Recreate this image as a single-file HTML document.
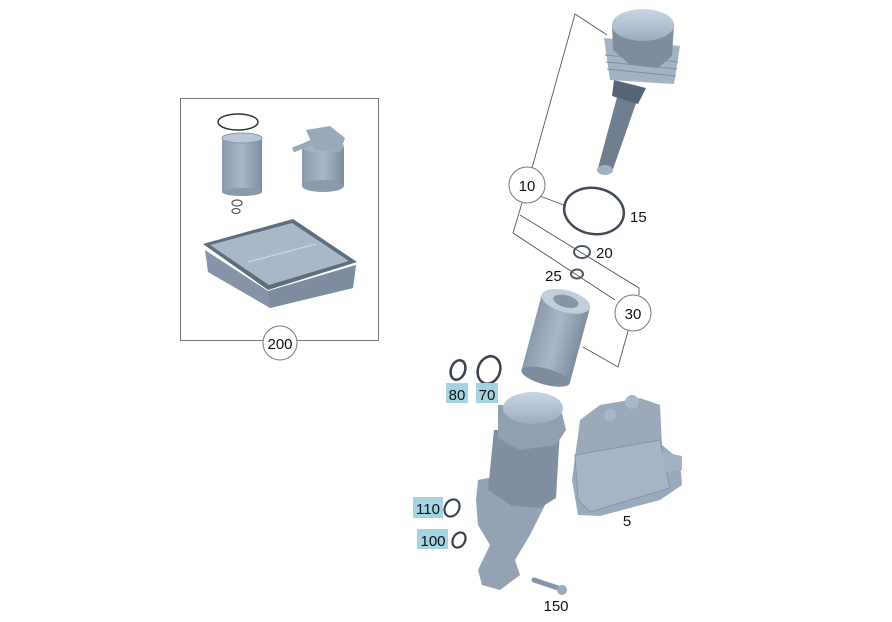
<!DOCTYPE html>
<html><head><meta charset="utf-8"><style>
html,body{margin:0;padding:0;background:#fff;}
svg{display:block;}
text{font-family:"Liberation Sans",sans-serif;font-size:15px;fill:#111;}
</style></head><body>
<svg width="892" height="622" viewBox="0 0 892 622" xmlns="http://www.w3.org/2000/svg">
<defs>
<linearGradient id="g1" x1="0" x2="1" y1="0" y2="0"><stop offset="0" stop-color="#8a9aab"/><stop offset="0.5" stop-color="#a9b8c8"/><stop offset="1" stop-color="#7d8d9e"/></linearGradient>
<linearGradient id="g2" x1="0" x2="0" y1="0" y2="1"><stop offset="0" stop-color="#c8d6e4"/><stop offset="1" stop-color="#9badbf"/></linearGradient>
</defs>
<rect x="180.5" y="98.5" width="198" height="242" fill="none" stroke="#777" stroke-width="1"/>
<circle cx="280" cy="343" r="17" fill="#fff" stroke="#777"/>
<text x="280" y="349" text-anchor="middle" font-size="16">200</text>
<ellipse cx="238" cy="122" rx="20" ry="8" fill="none" stroke="#333" stroke-width="1.5"/>
<rect x="222" y="138" width="40" height="54" fill="url(#g1)"/>
<ellipse cx="242" cy="138" rx="20" ry="5" fill="#b9c8d7" stroke="#8a9aab"/>
<ellipse cx="242" cy="192" rx="20" ry="4" fill="#8a9aab"/>
<ellipse cx="237" cy="203" rx="5" ry="3" fill="none" stroke="#555" stroke-width="1.2"/>
<ellipse cx="236" cy="211" rx="4" ry="2.5" fill="none" stroke="#555" stroke-width="1.2"/>
<rect x="302" y="146" width="42" height="40" fill="url(#g1)"/>
<ellipse cx="323" cy="186" rx="21" ry="6" fill="#8a9aab"/>
<ellipse cx="323" cy="146" rx="21" ry="7" fill="#a5b4c4"/>
<path d="M306 130 L330 126 L345 138 L340 152 L315 150 Z" fill="#9aa9ba"/>
<path d="M293 150 L318 140" stroke="#9aa9ba" stroke-width="5"/>
<path d="M205 250 L208 272 L270 308 L353 288 L356 265 L268 291 Z" fill="#8594a6"/>
<path d="M268 291 L270 308 L353 288 L356 265 Z" fill="#7d8c9e"/>
<path d="M203 244 L293 219 L357 262 L268 290 Z" fill="#5f6d7d"/>
<path d="M210 245 L292 223 L349 261 L269 285 Z" fill="#a9b8c8"/>
<line x1="248" y1="262" x2="316" y2="244" stroke="#d8e3ee" stroke-width="0.8"/>
<g stroke="#555" stroke-width="0.9" fill="none">
<polyline points="607,35 575,14 532,168"/>
<polyline points="522,203 513,233 615,300"/>
<polyline points="520,215 639,288 639,295"/>
<line x1="540" y1="196" x2="566" y2="206"/>
<polyline points="628,331 618,367 583,347"/>
</g>
<circle cx="527" cy="185" r="18" fill="#fff" stroke="#777"/>
<text x="527" y="191" text-anchor="middle" font-size="16">10</text>
<circle cx="633" cy="313" r="18" fill="#fff" stroke="#777"/>
<text x="633" y="319" text-anchor="middle" font-size="16">30</text>
<!-- cap 10 -->
<path d="M620 86 L640 92 L612 172 L598 168 Z" fill="#6f7f90"/>
<ellipse cx="605" cy="170" rx="8" ry="5" fill="#9fb0c1"/>
<path d="M614 80 L646 88 L638 104 L612 96 Z" fill="#56657a"/>
<path d="M604 38 L680 46 L674 84 L610 80 Z" fill="#a3b3c4"/>
<g stroke="#7f8fa0" stroke-width="1"><line x1="605" y1="55" x2="678" y2="62"/><line x1="606" y1="62" x2="677" y2="69"/><line x1="607" y1="69" x2="676" y2="76"/></g>
<path d="M612 24 L674 24 L672 56 L658 68 L630 65 L613 50 Z" fill="#7d8d9e"/>
<ellipse cx="643" cy="25" rx="31" ry="16" fill="url(#g2)"/>
<ellipse cx="594" cy="211" rx="30" ry="23" transform="rotate(10 594 211)" fill="none" stroke="#3f4a56" stroke-width="2.5"/>
<text x="630" y="222" font-size="16">15</text>
<ellipse cx="582" cy="252" rx="8" ry="6" fill="none" stroke="#4c5866" stroke-width="2"/>
<text x="596" y="258" font-size="16">20</text>
<ellipse cx="577" cy="274" rx="6" ry="4.5" fill="none" stroke="#4c5866" stroke-width="2"/>
<text x="545" y="281" font-size="16">25</text>
<g transform="rotate(15 556 338)">
<rect x="531" y="300" width="50" height="78" fill="url(#g1)"/>
<ellipse cx="556" cy="378" rx="25" ry="8" fill="#7d8d9e"/>
<ellipse cx="556" cy="300" rx="25" ry="11" fill="#c1cfdc"/>
<ellipse cx="556" cy="300" rx="13" ry="6" fill="#8596a8"/>
</g>
<ellipse cx="458" cy="370" rx="7" ry="10" transform="rotate(20 458 370)" fill="none" stroke="#37424e" stroke-width="2.5"/>
<ellipse cx="489" cy="370" rx="11" ry="14" transform="rotate(20 489 370)" fill="none" stroke="#37424e" stroke-width="2.5"/>
<rect x="446" y="383" width="22" height="20" fill="#a4d3e2"/>
<text x="457" y="400" text-anchor="middle" font-size="16" fill="#1e3a4a">80</text>
<rect x="476" y="383" width="22" height="20" fill="#a4d3e2"/>
<text x="487" y="400" text-anchor="middle" font-size="16" fill="#1e3a4a">70</text>
<path d="M580 420 L600 405 L640 398 L660 405 L662 445 L680 460 L682 485 L660 500 L600 516 L578 515 L572 480 Z" fill="#9aaabb"/>
<path d="M575 455 L660 440 L670 488 L590 512 L578 500 Z" fill="#a6b5c5" stroke="#8595a6"/>
<circle cx="632" cy="402" r="7" fill="#a9b8c8"/><circle cx="610" cy="415" r="6" fill="#a9b8c8"/>
<path d="M662 452 L682 456 L682 470 L666 472 Z" fill="#a3b2c3"/>
<path d="M478 480 L530 470 L545 505 L530 535 L515 560 L520 575 L500 590 L482 585 L478 570 L490 545 L478 525 L476 500 Z" fill="#93a3b4"/>
<path d="M494 430 L560 430 L556 498 L540 508 L512 506 L488 490 Z" fill="#7f8fa0"/>
<path d="M498 405 L560 405 L566 430 L556 445 L520 450 L498 438 Z" fill="#8fa0b1"/>
<ellipse cx="533" cy="408" rx="30" ry="16" fill="url(#g2)"/>
<path d="M534 580 L558 588" stroke="#8595a6" stroke-width="5" stroke-linecap="round"/>
<circle cx="562" cy="590" r="5" fill="#9aaabb"/>
<ellipse cx="452" cy="508" rx="7" ry="9" transform="rotate(30 452 508)" fill="none" stroke="#37424e" stroke-width="2.2"/>
<ellipse cx="459" cy="540" rx="6" ry="8" transform="rotate(30 459 540)" fill="none" stroke="#37424e" stroke-width="2.2"/>
<rect x="413" y="497" width="30" height="21" fill="#a4d3e2"/>
<text x="428" y="514" text-anchor="middle" font-size="16" fill="#1e3a4a">110</text>
<rect x="417" y="529" width="31" height="20" fill="#a4d3e2"/>
<text x="433" y="546" text-anchor="middle" font-size="16" fill="#1e3a4a">100</text>
<text x="627" y="526" text-anchor="middle" font-size="16">5</text>
<text x="556" y="611" text-anchor="middle" font-size="16">150</text>
</svg>
</body></html>
